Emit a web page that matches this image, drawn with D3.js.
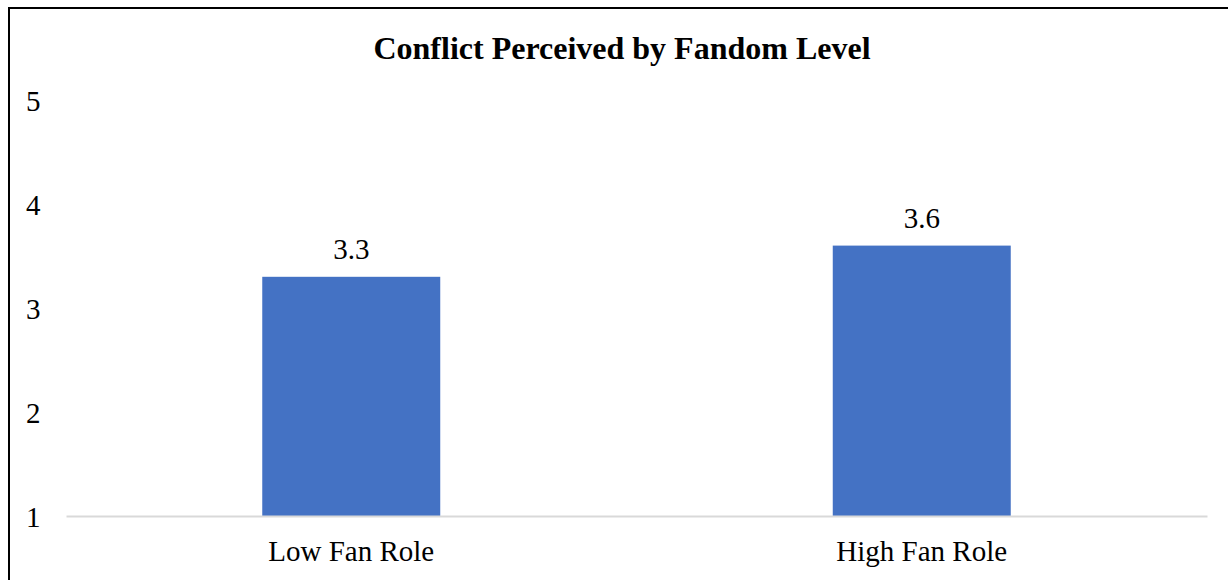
<html>
<head>
<script src="https://d3js.org/d3.v7.min.js"></script>
<style>
  body { margin: 0; background: #fff; }
  svg { display: block; }
  text { font-family: "Liberation Serif", "Times New Roman", serif; fill: #000; }
</style>
</head>
<body>
<div id="chart"></div>
<script>
var categories = ["Low Fan Role", "High Fan Role"]
var values = [3.3, 3.6]
var yTicks = [1, 2, 3, 4, 5]
var title = "Conflict Perceived by Fandom Level"

var width = 1228, height = 580
var svg = d3.select('#chart').append('svg')
  .attr('width', width)
  .attr('height', height)

// chart frame, cut off at right and bottom like the reference
svg.append('path')
  .attr('d', 'M9,' + height + 'V8H' + width)
  .attr('fill', 'none')
  .attr('stroke', '#000')
  .attr('stroke-width', 2)

var x = d3.scaleBand()
  .domain(categories)
  .range([66, 1207])
  .paddingInner(0.688)
  .paddingOuter(0.344)

var y = d3.scaleLinear()
  .domain([1, 5])
  .range([516, 100])

var serif = '"Liberation Serif", "Times New Roman", serif'

svg.append('text')
  .attr('x', 622)
  .attr('y', 59)
  .attr('text-anchor', 'middle')
  .style('font-size', '32px')
  .style('font-weight', 'bold')
  .text(title)

// y labels
var yAxis = d3.axisLeft(y).tickValues(yTicks).tickSize(0).tickFormat(d3.format('d'))
var gy = svg.append('g').attr('transform', 'translate(40,0)').call(yAxis)
gy.select('.domain').remove()
gy.selectAll('text')
  .attr('x', -14)
  .attr('dy', '0.35em')
  .attr('text-anchor', 'start')
  .style('font-size', '29px')
  .style('font-family', serif)

svg.selectAll('rect.bar')
  .data(values)
  .enter().append('rect')
  .attr('class', 'bar')
  .attr('x', function(d, i){ return x(categories[i]) })
  .attr('width', x.bandwidth())
  .attr('y', function(d){ return y(d) })
  .attr('height', function(d){ return y(1) - y(d) })
  .attr('fill', '#4472c4')

svg.selectAll('text.val')
  .data(values)
  .enter().append('text')
  .attr('class', 'val')
  .attr('x', function(d, i){ return x(categories[i]) + x.bandwidth() / 2 })
  .attr('y', function(d){ return y(d) - 18 })
  .attr('text-anchor', 'middle')
  .style('font-size', '29px')
  .text(function(d){ return d3.format('.1f')(d) })

// x axis line and labels
var xAxis = d3.axisBottom(x).tickSize(0).tickPadding(0)
var gx = svg.append('g').attr('transform', 'translate(0,' + y(1) + ')').call(xAxis)
gx.select('.domain').attr('stroke', '#d9d9d9').attr('stroke-width', 2)
gx.selectAll('text')
  .attr('y', 45)
  .attr('dy', 0)
  .style('font-size', '29px')
  .style('font-family', serif)
</script>
</body>
</html>
